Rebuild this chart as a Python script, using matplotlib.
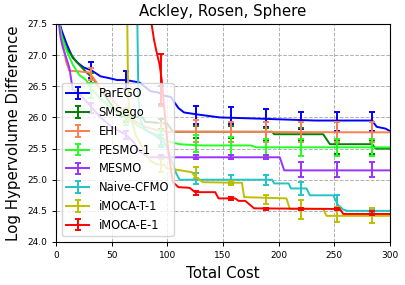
"""
Log hypervolume difference vs total cost on the Ackley, Rosen, Sphere problem.
"""

import matplotlib

matplotlib.use("Agg")
import matplotlib.pyplot as plt
import numpy as np

NAMES = ["ParEGO", "SMSego", "EHI", "PESMO-1", "MESMO", "Naive-CFMO", "iMOCA-T-1", "iMOCA-E-1"]
COLORS = ["#0000ff", "#008000", "#ff7f50", "#22ff22", "#9933ff", "#22c4c4", "#bfbf00", "#ff0000"]

# mean curves (breakpoints)
PAREGO_X = [2, 5, 10, 15, 20, 25, 31.5, 40, 48, 55, 63, 75, 85, 92, 97, 103, 110, 115, 126, 147, 183, 233, 284, 288, 296, 300]
PAREGO_Y = [27.6, 27.4, 27.16, 26.96, 26.87, 26.8, 26.76, 26.66, 26.63, 26.6, 26.6, 26.56, 26.42, 26.4, 26.35, 26.33, 26.15, 26.08, 26.05, 26.0, 25.98, 25.95, 25.95, 25.85, 25.82, 25.78]

SMSEGO_X = [2, 4.5, 9, 18, 27, 33, 40, 50, 58, 78, 80, 100, 105, 194, 196, 240, 246, 284, 287, 300]
SMSEGO_Y = [27.6, 27.37, 27.12, 26.9, 26.73, 26.63, 26.45, 26.2, 26.02, 26.0, 25.93, 25.9, 25.77, 25.77, 25.73, 25.73, 25.57, 25.57, 25.5, 25.5]

EHI_X = [2, 6, 9, 12, 20, 30, 35, 40, 50, 60, 70, 80, 90, 100, 300]
EHI_Y = [27.6, 27.2, 26.9, 26.75, 26.74, 26.72, 26.6, 26.45, 26.3, 26.1, 25.95, 25.85, 25.8, 25.77, 25.76]

PESMO_X = [2, 5, 10, 15, 21, 27, 32, 40, 50, 63, 75, 90, 100, 111, 130, 175, 180, 300]
PESMO_Y = [27.6, 27.3, 27.05, 26.85, 26.68, 26.6, 26.45, 26.3, 26.15, 26.0, 25.85, 25.72, 25.62, 25.57, 25.55, 25.55, 25.52, 25.52]

MESMO_X = [2, 4, 6, 9, 12, 15, 20, 30, 40, 50, 63, 70, 75, 84, 201, 205, 300]
MESMO_Y = [27.6, 27.3, 27.13, 26.97, 26.8, 26.45, 26.4, 26.2, 26.0, 25.85, 25.72, 25.6, 25.45, 25.36, 25.36, 25.15, 25.15]

NAIVE_X = [73, 73.5, 74, 76, 80, 90, 97, 100, 104, 108, 111, 194, 196, 209, 211, 225, 228, 249, 253, 258, 262, 300]
NAIVE_Y = [27.6, 27.0, 26.3, 25.95, 25.8, 25.7, 25.6, 25.5, 25.3, 25.1, 25.0, 25.0, 24.94, 24.94, 24.86, 24.86, 24.75, 24.75, 24.6, 24.52, 24.5, 24.5]

IMOCA_T_X = [64, 64.5, 65, 67, 72, 80, 85, 90, 97, 100, 112, 122, 125, 132, 167, 169, 207, 210, 240, 243, 300]
IMOCA_T_Y = [27.6, 26.8, 26.3, 26.0, 25.7, 25.45, 25.3, 25.25, 25.24, 25.18, 25.15, 25.12, 25.05, 24.96, 24.95, 24.72, 24.7, 24.53, 24.53, 24.42, 24.42]

IMOCA_E_X = [85, 88, 90, 93, 95, 98, 100, 103, 105, 110, 120, 125, 143, 146, 161, 164, 170, 178, 255, 258, 300]
IMOCA_E_Y = [27.6, 27.25, 27.08, 26.85, 26.6, 26.0, 25.6, 25.2, 24.96, 24.88, 24.87, 24.8, 24.8, 24.7, 24.7, 24.66, 24.66, 24.54, 24.53, 24.45, 24.45]

# error bars (every ~31.5 cost units)
PAREGO_EX = [31.5, 63, 94.5, 126, 157.5, 189, 220.5, 252, 283.5]
PAREGO_EY = [26.76, 26.6, 26.36, 26.04, 26.03, 25.99, 25.95, 25.93, 25.93]
PAREGO_EE = [0.13, 0.14, 0.15, 0.14, 0.135, 0.14, 0.14, 0.15, 0.15]

SMSEGO_EX = [31.5, 63, 94.5, 126, 157.5, 189, 220.5, 252, 283.5]
SMSEGO_EY = [26.64, 26.0, 25.9, 25.77, 25.77, 25.73, 25.73, 25.53, 25.53]
SMSEGO_EE = [0.08, 0.08, 0.08, 0.1, 0.1, 0.1, 0.1, 0.11, 0.11]

EHI_EX = [31.5, 63, 94.5, 126, 157.5, 189, 220.5, 252, 283.5]
EHI_EY = [26.7, 26.05, 25.79, 25.78, 25.76, 25.76, 25.76, 25.76, 25.76]
EHI_EE = [0.1, 0.1, 0.12, 0.18, 0.16, 0.16, 0.16, 0.16, 0.16]

PESMO_EX = [31.5, 63, 94.5, 126, 157.5, 189, 220.5, 252, 283.5]
PESMO_EY = [26.43, 26.0, 25.68, 25.58, 25.54, 25.52, 25.52, 25.52, 25.52]
PESMO_EE = [0.12, 0.12, 0.12, 0.14, 0.14, 0.14, 0.14, 0.14, 0.14]

MESMO_EX = [31.5, 63, 94.5, 126, 157.5, 189, 220.5, 252, 283.5]
MESMO_EY = [26.15, 25.72, 25.36, 25.36, 25.36, 25.36, 25.16, 25.16, 25.16]
MESMO_EE = [0.08, 0.07, 0.03, 0.03, 0.03, 0.03, 0.12, 0.12, 0.12]

NAIVE_EX = [94.5, 126, 157.5, 189, 220.5, 252, 283.5]
NAIVE_EY = [25.62, 25.02, 25.0, 25.0, 24.86, 24.66, 24.5]
NAIVE_EE = [0.1, 0.09, 0.07, 0.08, 0.1, 0.1, 0.02]

IMOCA_T_EX = [94.5, 126, 157.5, 189, 220.5, 252, 283.5]
IMOCA_T_EY = [25.23, 25.11, 24.95, 24.68, 24.52, 24.44, 24.42]
IMOCA_T_EE = [0.1, 0.09, 0.03, 0.07, 0.15, 0.12, 0.12]

IMOCA_E_EX = [94.5, 126, 157.5, 189, 220.5, 252, 283.5]
IMOCA_E_EY = [26.6, 24.79, 24.7, 24.53, 24.53, 24.53, 24.46]
IMOCA_E_EE = [0.42, 0.03, 0.02, 0.02, 0.02, 0.02, 0.03]

CURVES = [
    (PAREGO_X, PAREGO_Y, PAREGO_EX, PAREGO_EY, PAREGO_EE),
    (SMSEGO_X, SMSEGO_Y, SMSEGO_EX, SMSEGO_EY, SMSEGO_EE),
    (EHI_X, EHI_Y, EHI_EX, EHI_EY, EHI_EE),
    (PESMO_X, PESMO_Y, PESMO_EX, PESMO_EY, PESMO_EE),
    (MESMO_X, MESMO_Y, MESMO_EX, MESMO_EY, MESMO_EE),
    (NAIVE_X, NAIVE_Y, NAIVE_EX, NAIVE_EY, NAIVE_EE),
    (IMOCA_T_X, IMOCA_T_Y, IMOCA_T_EX, IMOCA_T_EY, IMOCA_T_EE),
    (IMOCA_E_X, IMOCA_E_Y, IMOCA_E_EX, IMOCA_E_EY, IMOCA_E_EE),
]

LW = 1.4
CAP = 2.5


def main() -> None:
    fig = plt.figure(figsize=(4.06, 2.85), dpi=100)
    ax = fig.add_axes([0.1379, 0.1509, 0.8227, 0.7649])

    handles = []
    for name, color, (x, y, ex, ey, ee) in zip(NAMES, COLORS, CURVES):
        ax.plot(x, y, color=color, lw=LW)
        ax.errorbar(ex, ey, yerr=ee, fmt="none", ecolor=color, elinewidth=LW, capsize=CAP, capthick=LW)
        # invisible errorbar, only for the legend entry
        h = ax.errorbar([np.nan], [np.nan], yerr=[np.nan], color=color, lw=LW,
                        elinewidth=LW, capsize=CAP, capthick=LW, label=name)
        handles.append(h)

    ax.set_xlim(0, 300)
    ax.set_ylim(24.0, 27.5)
    ax.set_xticks([0, 50, 100, 150, 200, 250, 300])
    ax.set_yticks([24.0, 24.5, 25.0, 25.5, 26.0, 26.5, 27.0, 27.5])
    ax.tick_params(labelsize=6.5, length=3, width=0.7)
    ax.grid(True, linestyle="--", color="#b0b0b0", linewidth=0.7)
    ax.set_axisbelow(True)

    ax.set_title("Ackley, Rosen, Sphere", fontsize=10.8)
    ax.set_xlabel("Total Cost", fontsize=10.8)
    ax.set_ylabel("Log Hypervolume Difference", fontsize=10.8)

    ax.legend(handles=handles, loc="lower left", fontsize=8.3)

    fig.savefig("out.png", dpi=100)
    plt.close(fig)


if __name__ == "__main__":
    main()
